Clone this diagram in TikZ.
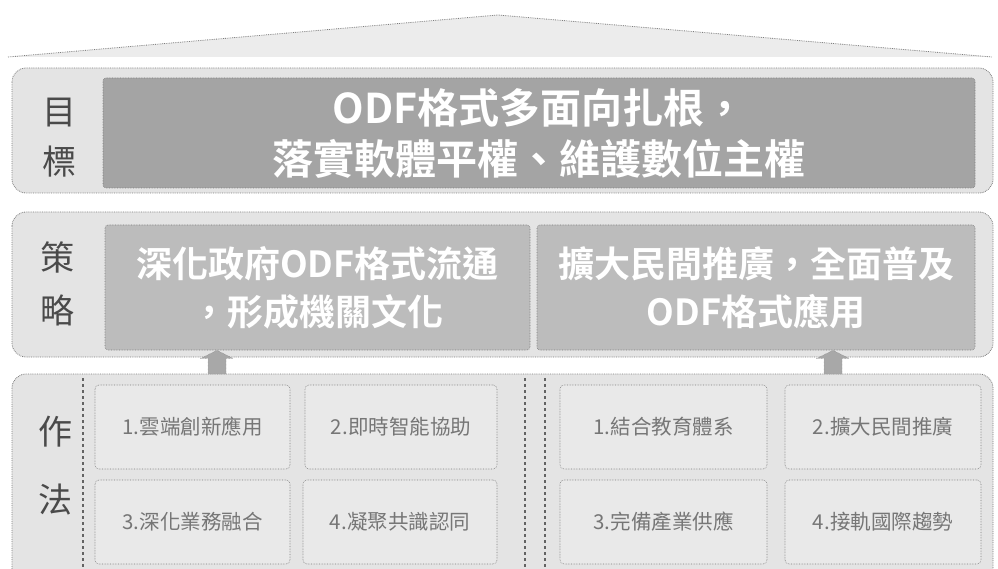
\documentclass[tikz,border=0pt]{standalone}
\usepackage{fontspec}
\setmainfont{Noto Sans CJK TC}
\newfontfamily\cjkb{Noto Sans CJK TC}[BoldFont={* Bold}]
\usetikzlibrary{calc}
\definecolor{rowfill}{HTML}{E4E4E4}
\definecolor{rowline}{HTML}{7C7C7C}
\definecolor{goalfill}{HTML}{A4A4A4}
\definecolor{stratfill}{HTML}{BCBCBC}
\definecolor{actfill}{HTML}{E9E9E9}
\definecolor{acttext}{HTML}{767676}
\definecolor{labtext}{HTML}{4A4A4A}
\definecolor{arrowfill}{HTML}{A8A8A8}
\tikzset{
  rowbox/.style={draw=rowline, densely dotted, fill=rowfill, rounded corners=14pt, line width=0.8pt},
  inbox/.style={draw=rowline, densely dotted, rounded corners=3pt, line width=0.6pt, align=center, text=white, inner sep=0pt},
  actbox/.style={draw=rowline, densely dotted, fill=actfill, rounded corners=4pt, line width=0.6pt, text=acttext, font=\fontsize{20.5}{22}\selectfont, inner sep=0pt},
  labtxt/.style={text=labtext, font=\fontsize{34}{36}\selectfont, inner sep=0pt},
  sepline/.style={draw=rowline!80!black, dashed, line width=1.2pt},
  uparrow/.style={fill=arrowfill, draw=rowline, densely dotted, line width=0.4pt}
}
\begin{document}
\begin{tikzpicture}[x=1pt,y=-1pt]
\clip (0,0) rectangle (998,569);
\fill[white] (0,0) rectangle (998,569);
% roof
\coordinate (rl) at (8,57);
\coordinate (rt) at (498,15);
\coordinate (rr) at (992,57);
\draw[fill=rowfill!70!white, draw=rowline, densely dotted, line width=0.8pt] (rl) -- (rt) -- (rr);
% goal row
\draw[rowbox] (12,68) rectangle (993,193);
\node[inbox, fill=goalfill, minimum width=872pt, minimum height=110pt, font=\cjkb\bfseries\fontsize{41}{51}\selectfont] (goal) at (539,133)
  {ODF格式多面向扎根，\\落實軟體平權、維護數位主權};
\node[labtxt] (g1) at (59,113) {目};
\node[labtxt] (g2) at (59,162) {標};
% strategy row
\draw[rowbox] (12,212) rectangle (993,357);
\node[inbox, fill=stratfill, minimum width=425pt, minimum height=125pt, font=\cjkb\bfseries\fontsize{36}{48}\selectfont] (s1) at (317.5,287.5)
  {深化政府ODF格式流通\\，形成機關文化};
\node[inbox, fill=stratfill, minimum width=438pt, minimum height=125pt, font=\cjkb\bfseries\fontsize{36}{48}\selectfont] (s2) at (756,287.5)
  {擴大民間推廣，全面普及\\ODF格式應用};
\node[labtxt] (p1) at (57,257) {策};
\node[labtxt] (p2) at (57,310) {略};
% action row
\draw[rowbox] (12,374) rectangle (993,620);
\node[labtxt] (w1) at (55,432) {作};
\node[labtxt] (w2) at (55,500) {法};
\coordinate (d1t) at (83,378); \coordinate (d1b) at (83,569);
\coordinate (d2t) at (525,378); \coordinate (d2b) at (525,569);
\coordinate (d3t) at (545,378); \coordinate (d3b) at (545,569);
\draw[sepline] (d1t) -- (d1b);
\draw[sepline] (d2t) -- (d2b);
\draw[sepline] (d3t) -- (d3b);
\node[actbox, minimum width=195pt, minimum height=84pt] (a1) at (192.5,427) {1.雲端創新應用};
\node[actbox, minimum width=192pt, minimum height=84pt] (a2) at (401,427) {2.即時智能協助};
\node[actbox, minimum width=195pt, minimum height=84pt] (a3) at (192.5,522) {3.深化業務融合};
\node[actbox, minimum width=194pt, minimum height=84pt] (a4) at (400,522) {4.凝聚共識認同};
\node[actbox, minimum width=207pt, minimum height=84pt] (b1) at (663.5,427) {1.結合教育體系};
\node[actbox, minimum width=196pt, minimum height=84pt] (b2) at (883,427) {2.擴大民間推廣};
\node[actbox, minimum width=207pt, minimum height=84pt] (b3) at (663.5,522) {3.完備產業供應};
\node[actbox, minimum width=196pt, minimum height=84pt] (b4) at (883,522) {4.接軌國際趨勢};
% up arrows from action row to strategy boxes
\coordinate (u1) at (217,374);
\coordinate (u2) at (833,374);
\foreach \u/\s in {u1/s1,u2/s2}{
  \path (\u) coordinate (base);
  \path (base |- \s.south) coordinate (tip);
  \draw[uparrow] ($(base)+(-9,0)$) -- ($(tip)+(-9,8)$) -- ($(tip)+(-16,8)$) -- (tip) -- ($(tip)+(16,8)$) -- ($(tip)+(9,8)$) -- ($(base)+(9,0)$) -- cycle;
}
\end{tikzpicture}
\end{document}
